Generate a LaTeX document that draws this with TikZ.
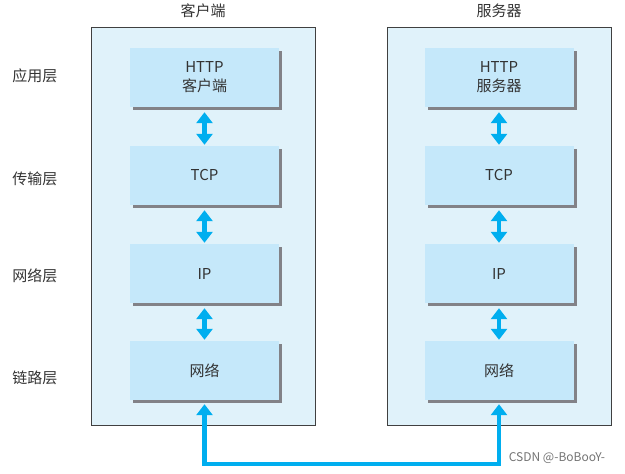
\documentclass[tikz,border=0pt]{standalone}
\usepackage{fontspec}
\setmainfont{Noto Sans CJK SC}
\usepackage{xcolor}
\usepackage{tikz}
\usetikzlibrary{arrows.meta,shadows}
\definecolor{C1}{RGB}{0,174,239}
\definecolor{C2}{RGB}{224,242,250}
\definecolor{C3}{RGB}{197,232,250}
\definecolor{C4}{RGB}{130,130,135}

\begin{document}
\begin{tikzpicture}[x=1pt,y=1pt,
      host/.style={draw=black!75,line width=1pt,fill=C2,
                   minimum width=224pt,minimum height=398pt,
                   inner sep=0pt},
      layer/.style={fill=C3,minimum width=149pt,minimum height=59pt,
                    inner sep=0pt,align=center,
                    font=\fontsize{15}{19}\selectfont,text=black!80,
                    drop shadow={shadow xshift=3pt,shadow yshift=-3pt,
                                 fill=C4,opacity=1}},
      tag/.style={font=\fontsize{15}{18}\selectfont,text=black!80},
      arr/.style={{Triangle[width=16pt,length=11pt]}-{Triangle[width=16pt,length=11pt]},
                  C1,line width=4.5pt,shorten <=5pt,shorten >=1pt},
      link/.style={{Triangle[width=16pt,length=11pt]}-{Triangle[width=16pt,length=11pt]},
                   C1,line width=4.5pt,shorten <=4pt,shorten >=4pt}]
    \useasboundingbox (0,0) rectangle (625,-474);
    % two hosts
    \node[host] (client) at (203,-226) {};
    \node[host] (server) at (499,-226) {};
    \node[tag] (clientname) at (203,-11) {客户端};
    \node[tag] (servername) at (499,-11) {服务器};
    % layer names
    \node[tag] (app)  at (35,-76)  {应用层};
    \node[tag] (trans) at (35,-179) {传输层};
    \node[tag] (inet) at (35,-276) {网络层};
    \node[tag] (dlink) at (35,-378) {链路层};
    % client stack
    \node[layer] (http1) at (204.5,-77.5)  {HTTP\\客户端};
    \node[layer] (tcp1)  at (204.5,-175.5) {TCP};
    \node[layer] (ip1)   at (204.5,-273.5) {IP};
    \node[layer] (net1)  at (204.5,-370.5) {网络};
    % server stack
    \node[layer] (http2) at (499,-77.5)  {HTTP\\服务器};
    \node[layer] (tcp2)  at (499,-175.5) {TCP};
    \node[layer] (ip2)   at (499,-273.5) {IP};
    \node[layer] (net2)  at (499,-370.5) {网络};
    \draw[arr] (http1) -- (tcp1);
    \draw[arr] (tcp1) -- (ip1);
    \draw[arr] (ip1) -- (net1);
    \draw[arr] (http2) -- (tcp2);
    \draw[arr] (tcp2) -- (ip2);
    \draw[arr] (ip2) -- (net2);
    % cable between the hosts
    \coordinate (base) at (350,-464);
    \draw[link] (net1.south) |- (base) -| (net2.south);
    \node[font=\fontsize{12}{14}\selectfont,text=black!55] (mark)
      at (557,-458) {CSDN @-BoBooY-};
  \end{tikzpicture}
\end{document}
